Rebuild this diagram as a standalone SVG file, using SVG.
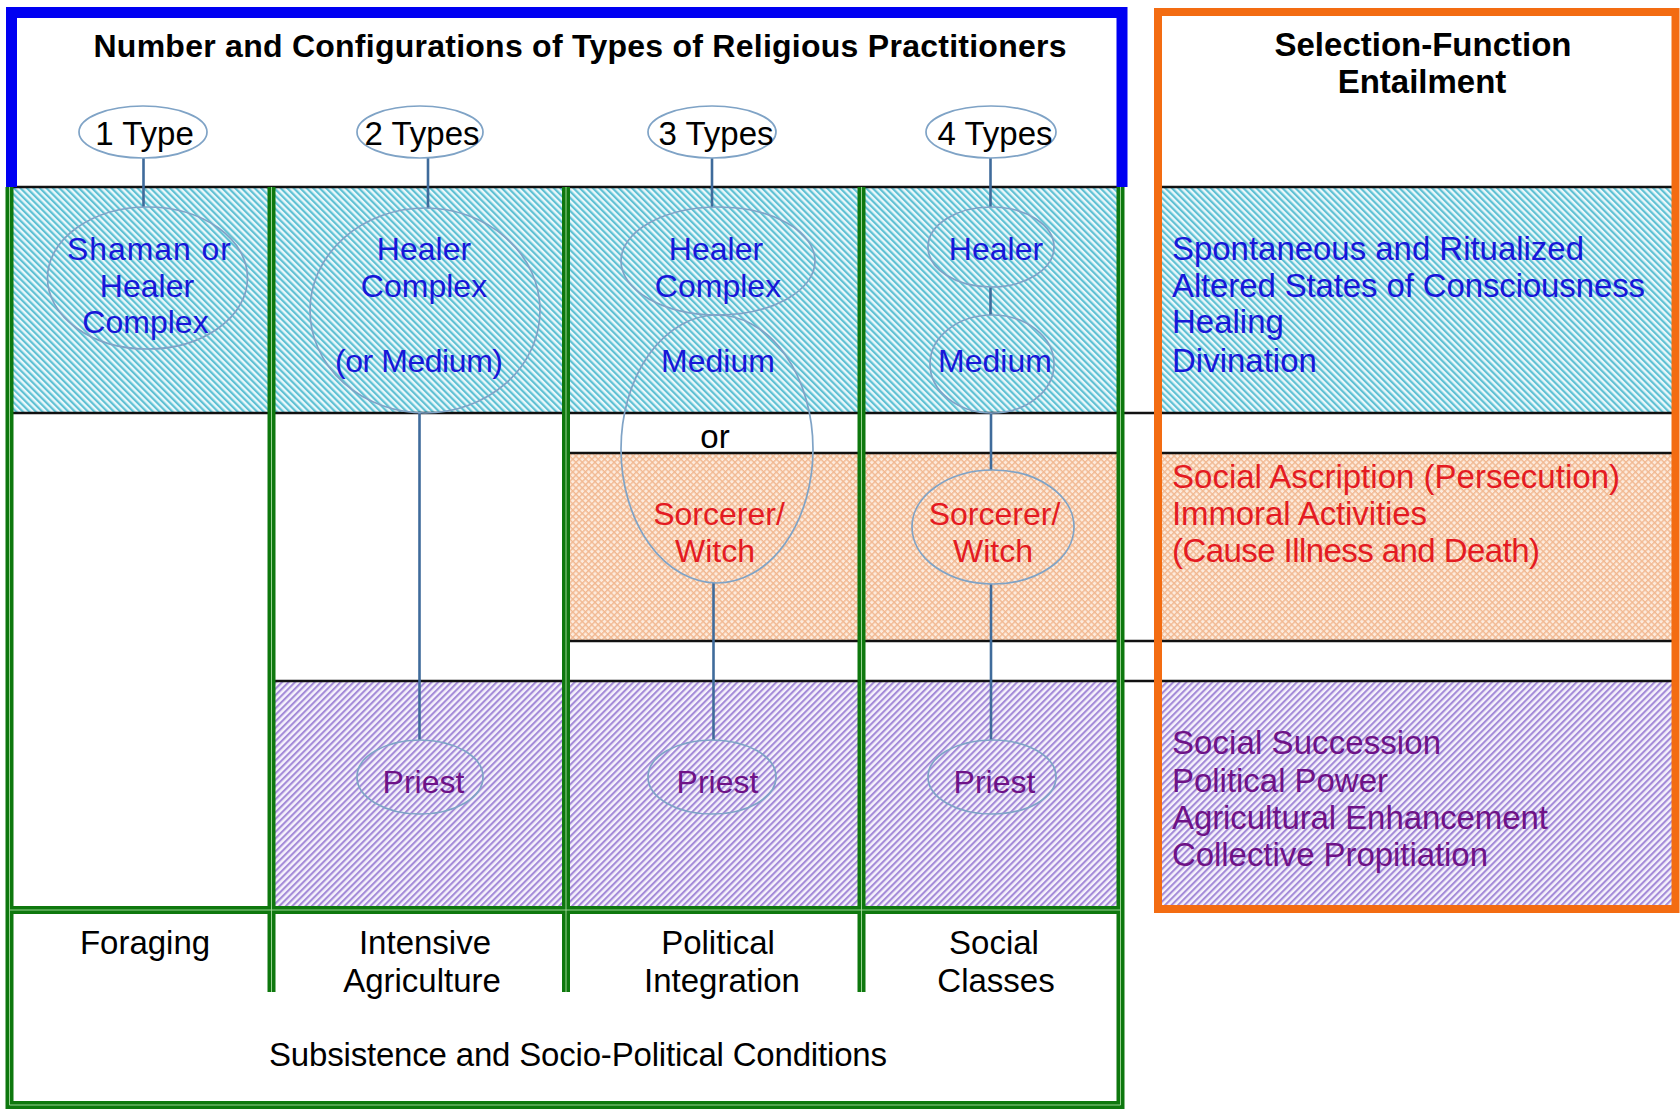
<svg xmlns="http://www.w3.org/2000/svg" width="1680" height="1109" viewBox="0 0 1680 1109">
<defs>
<pattern id="hCyan" patternUnits="userSpaceOnUse" width="4.6" height="4.6" patternTransform="rotate(-45)">
<rect width="4.6" height="4.6" fill="#eaf8fb"/>
<rect width="2.2" height="4.6" fill="#5fc1d4"/>
</pattern>
<pattern id="hPurple" patternUnits="userSpaceOnUse" width="4.6" height="4.6" patternTransform="rotate(45)">
<rect width="4.6" height="4.6" fill="#f6f2fc"/>
<rect width="2.1" height="4.6" fill="#a48bd8"/>
</pattern>
<pattern id="hOrange" patternUnits="userSpaceOnUse" width="4.5" height="4.5" patternTransform="rotate(45)">
<rect width="4.5" height="4.5" fill="#fdebdd"/>
<rect width="1.4" height="4.5" fill="#f1b891"/>
<rect width="4.5" height="1.4" fill="#f1b891"/>
</pattern>
<style>
text{font-family:"Liberation Sans",Arial,Helvetica,sans-serif}
.bc{fill:url(#hCyan)}
.bo{fill:url(#hOrange)}
.bp{fill:url(#hPurple)}
.rule{stroke:#111;stroke-width:2.5;fill:none}
.gd{stroke:#0e780e;stroke-width:8;fill:none}
.gl{stroke:#a9dca2;stroke-width:0.9;fill:none}
.node ellipse{fill:none;stroke:#7fa3c6;stroke-width:1.7}
.type ellipse{fill:#fff;stroke:#7fa3c6;stroke-width:1.7}
.conn line{stroke:#3f6b9b;stroke-width:2.6}
.tn{font-size:32px;text-anchor:middle}
.tt{font-size:33px;text-anchor:middle;fill:#000}
.blue{fill:#1717d8}
.red{fill:#e41b22}
.purple{fill:#6e1287}
.title{font-size:32px;font-weight:bold;fill:#000;text-anchor:middle}
.rt{font-size:33px}
.bt{font-size:33px;text-anchor:middle;fill:#000}
</style>
</defs>
<rect width="1680" height="1109" fill="#fff"/>
<g id="bands">
<rect class="bc" x="12" y="187" width="1108" height="226"/>
<rect class="bc" x="1162" y="187" width="510" height="226"/>
<rect class="bo" x="567" y="453" width="553" height="188"/>
<rect class="bo" x="1162" y="453" width="510" height="188"/>
<rect class="bp" x="272" y="681" width="848" height="229"/>
<rect class="bp" x="1162" y="681" width="510" height="224"/>
</g>
<g id="rules">
<line class="rule" x1="12" y1="187" x2="1118" y2="187"/>
<line class="rule" x1="1162" y1="187" x2="1672" y2="187"/>
<line class="rule" x1="12" y1="413" x2="1672" y2="413"/>
<line class="rule" x1="567" y1="453" x2="1120" y2="453"/>
<line class="rule" x1="1162" y1="453" x2="1672" y2="453"/>
<line class="rule" x1="567" y1="641" x2="1672" y2="641"/>
<line class="rule" x1="272" y1="681" x2="1672" y2="681"/>
</g>
<g id="grid">
<path class="gd" d="M9.5 187V1105H1120.5V187M271.5 187V992M566 187V992M861.5 187V992M9.5 910H1120.5"/>
<path class="gl" d="M9.5 187V1105H1120.5V187M271.5 187V992M566 187V992M861.5 187V992M9.5 910H1120.5"/>
</g>
<g id="frames">
<path d="M11.5 187V12.5H1122V187" fill="none" stroke="#0000f2" stroke-width="11"/>
<rect x="1158" y="12" width="517.5" height="897" fill="none" stroke="#f36c12" stroke-width="8"/>
</g>
<g id="headers">
<text class="title" x="580" y="57" textLength="973">Number and Configurations of Types of Religious Practitioners</text>
<text class="title" style="font-size:33px" x="1423" y="56">Selection-Function</text>
<text class="title" style="font-size:33px" x="1422" y="93">Entailment</text>
</g>
<g id="connectors" class="conn">
<line x1="143.5" y1="158" x2="143.5" y2="207"/>
<line x1="428" y1="158" x2="428" y2="208"/>
<line x1="419.5" y1="413" x2="419.5" y2="740"/>
<line x1="712" y1="158" x2="712" y2="207"/>
<line x1="713.5" y1="583" x2="713.5" y2="740"/>
<line x1="990.5" y1="158" x2="990.5" y2="207"/>
<line x1="990.5" y1="287" x2="990.5" y2="315"/>
<line x1="991" y1="413" x2="991" y2="470"/>
<line x1="991" y1="584" x2="991" y2="740"/>
</g>
<g id="type1" class="type"><ellipse cx="143" cy="132" rx="64" ry="26"/><text class="tt" x="144.5" y="145">1 Type</text></g>
<g id="type2" class="type"><ellipse cx="420" cy="132" rx="63" ry="26"/><text class="tt" x="422" y="145">2 Types</text></g>
<g id="type3" class="type"><ellipse cx="712" cy="132" rx="64" ry="26"/><text class="tt" x="716" y="145">3 Types</text></g>
<g id="type4" class="type"><ellipse cx="991" cy="132" rx="65" ry="26"/><text class="tt" x="995" y="145">4 Types</text></g>
<g id="shaman" class="node"><ellipse cx="147.5" cy="278" rx="100" ry="71"/>
<text class="tn blue" x="149" y="260" textLength="164">Shaman or</text><text class="tn blue" x="147" y="297">Healer</text><text class="tn blue" x="145.5" y="333">Complex</text></g>
<g id="healer2" class="node"><ellipse cx="425" cy="310.5" rx="115" ry="102.5"/>
<text class="tn blue" x="424" y="260">Healer</text><text class="tn blue" x="424" y="297">Complex</text><text class="tn blue" x="419" y="372" textLength="168">(or Medium)</text></g>
<g id="healer3" class="node"><ellipse cx="718" cy="261" rx="97" ry="54"/>
<text class="tn blue" x="716" y="260">Healer</text><text class="tn blue" x="718" y="297">Complex</text></g>
<g id="medium3" class="node"><ellipse cx="717" cy="449" rx="96" ry="134"/>
<text class="tn blue" x="718" y="372">Medium</text><text class="tn red" x="719" y="525">Sorcerer/</text><text class="tn red" x="715" y="562">Witch</text></g>
<text id="or-label" class="tt" x="715" y="448">or</text>
<g id="healer4" class="node"><ellipse cx="991" cy="247" rx="63" ry="40"/><text class="tn blue" x="996" y="260">Healer</text></g>
<g id="medium4" class="node"><ellipse cx="992" cy="364" rx="62" ry="49"/><text class="tn blue" x="995" y="372">Medium</text></g>
<g id="sorcerer4" class="node"><ellipse cx="993" cy="527" rx="81" ry="57"/>
<text class="tn red" x="994.5" y="525">Sorcerer/</text><text class="tn red" x="993" y="562">Witch</text></g>
<g id="priest2" class="node"><ellipse cx="420" cy="777" rx="63" ry="37"/><text class="tn purple" x="423.5" y="793">Priest</text></g>
<g id="priest3" class="node"><ellipse cx="712" cy="777" rx="64" ry="37"/><text class="tn purple" x="717.5" y="793">Priest</text></g>
<g id="priest4" class="node"><ellipse cx="992" cy="777" rx="64" ry="37"/><text class="tn purple" x="994.5" y="793">Priest</text></g>
<g id="entailments">
<text class="rt blue" x="1172" y="260" textLength="412">Spontaneous and Ritualized</text>
<text class="rt blue" x="1172" y="297" textLength="473">Altered States of Consciousness</text>
<text class="rt blue" x="1172" y="333">Healing</text>
<text class="rt blue" x="1172" y="372">Divination</text>
<text class="rt red" x="1172" y="488" textLength="448">Social Ascription (Persecution)</text>
<text class="rt red" x="1172" y="525" textLength="255">Immoral Activities</text>
<text class="rt red" x="1172" y="562" textLength="368">(Cause Illness and Death)</text>
<text class="rt purple" x="1172" y="754" textLength="269">Social Succession</text>
<text class="rt purple" x="1172" y="792" textLength="216">Political Power</text>
<text class="rt purple" x="1172" y="829" textLength="376">Agricultural Enhancement</text>
<text class="rt purple" x="1172" y="866" textLength="316">Collective Propitiation</text>
</g>
<g id="conditions">
<text class="bt" x="145" y="954">Foraging</text>
<text class="bt" x="425" y="954">Intensive</text>
<text class="bt" x="422" y="992">Agriculture</text>
<text class="bt" x="718" y="954">Political</text>
<text class="bt" x="722" y="992">Integration</text>
<text class="bt" x="994" y="954">Social</text>
<text class="bt" x="996" y="992">Classes</text>
<text class="bt" x="578" y="1066" textLength="618">Subsistence and Socio-Political Conditions</text>
</g>
</svg>
